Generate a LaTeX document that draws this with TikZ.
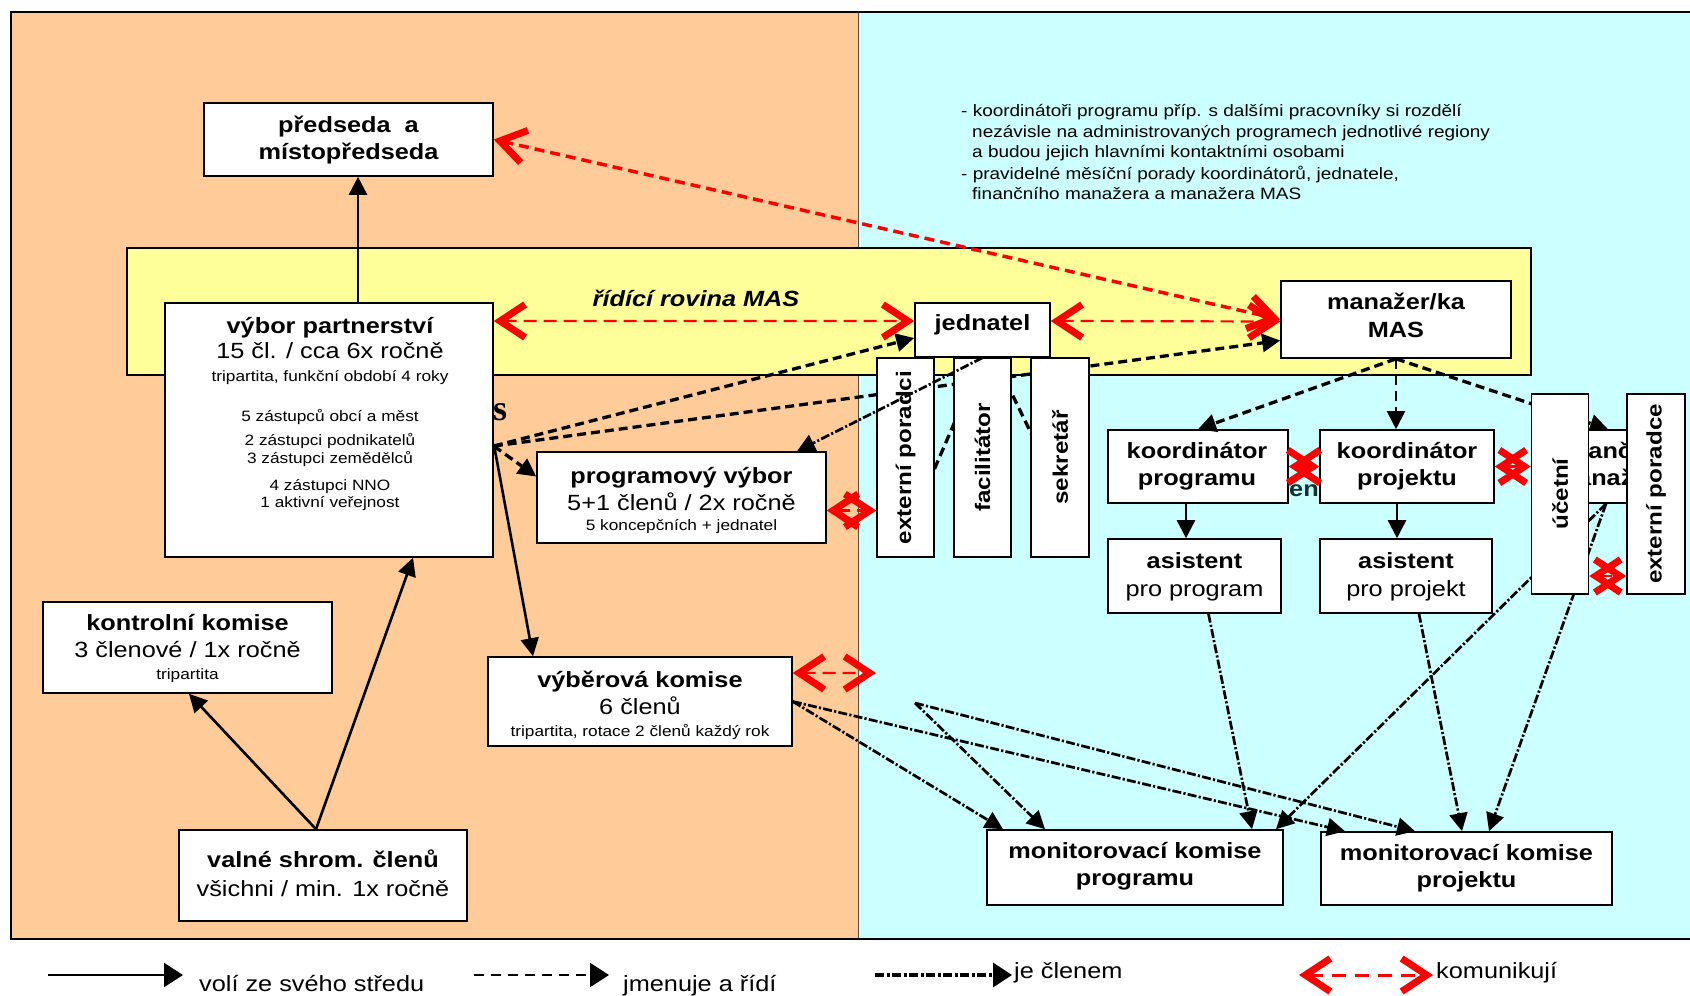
\documentclass[tikz,border=0pt]{standalone}
\usepackage{fontspec}
\setmainfont{Liberation Sans}[FakeStretch=1.15]
\newfontfamily\serifb{Liberation Serif}
\usetikzlibrary{arrows.meta,calc}
\pgfdeclarelayer{back}\pgfdeclarelayer{mid}\pgfsetlayers{back,mid,main}
\definecolor{orangebg}{RGB}{255,204,153}
\definecolor{cyanbg}{RGB}{204,255,255}
\definecolor{yellowbg}{RGB}{255,255,153}
\definecolor{entext}{RGB}{20,50,50}
\newcommand\fbig{\fontsize{22bp}{28bp}\selectfont}
\newcommand\fsm{\fontsize{15bp}{18bp}\selectfont}
\newcommand\fnote{\fontsize{16.5bp}{21bp}\selectfont}
\newcommand\frot{\fontsize{21bp}{25bp}\selectfont\bfseries}
\begin{document}
\begin{tikzpicture}[x=1bp,y=-1bp,
  box/.style={draw=black,line width=1.6bp,fill=white,inner sep=0pt,rectangle},
  vbox/.style={box,rotate=90,font=\frot},
  tb/.style={font=\fbig\bfseries,anchor=mid,inner sep=0pt,yshift=-3.5bp},
  tr/.style={font=\fbig,anchor=mid,inner sep=0pt,yshift=-3.5bp},
  ts/.style={font=\fsm,anchor=mid,inner sep=0pt,yshift=-3bp},
  tn/.style={font=\fnote,anchor=mid west,inner sep=0pt,yshift=-1.5bp},
  blackhead/.style={-{Triangle[length=18bp,width=18bp]}},
  leghead/.style={-{Triangle[length=19bp,width=24bp]}},
  solidarr/.style={line width=2.6bp,blackhead},
  jmenarr/.style={line width=3.3bp,dash pattern=on 9bp off 5bp,blackhead},
  clenarr/.style={line width=2.7bp,dash pattern=on 9bp off 2.2bp on 2.2bp off 2.2bp,blackhead},
  komarr/.style={draw=red,line width=2.2bp,dash pattern=on 13bp off 7bp,
     {Straight Barb[length=25bp,width=33bp,line width=7bp]}-{Straight Barb[length=25bp,width=33bp,line width=7bp]}}
]
\useasboundingbox (0,0) rectangle (1690,995);

\begin{pgfonlayer}{back}
\fill[white] (0,0) rectangle (1690,995);
\fill[orangebg] (11,12) rectangle (858,939);
\fill[cyanbg] (858,12) rectangle (1700,939);
\draw[line width=0.8bp,black!70] (858,12) -- (858,939);
\draw[line width=2bp] (11,12) rectangle (1700,939);
\node[draw,line width=1.6bp,fill=yellowbg,minimum width=1404bp,minimum height=127bp,inner sep=0pt] (band) at (829,311.5) {};
\node[font=\fbig\bfseries\itshape,anchor=mid,inner sep=0pt,yshift=-3.5bp] (rovina) at (696,300) {řídící rovina MAS};
\node[tn] (n1) at (961,112) {- koordinátoři programu příp. s dalšími pracovníky si rozdělí};
\node[tn] (n2) at (972,133) {nezávisle na administrovaných programech jednotlivé regiony};
\node[tn] (n3) at (972,153) {a budou jejich hlavními kontaktními osobami};
\node[tn] (n4) at (961,175) {- pravidelné měsíční porady koordinátorů, jednatele,};
\node[tn] (n5) at (972,195) {finančního manažera a manažera MAS};
\node[font=\serifb\bfseries\fontsize{36bp}{40bp}\selectfont,anchor=mid west,inner sep=0pt] (sfrag) at (493,418) {s};
\node[font=\fbig\bfseries,text=entext,anchor=mid west,inner sep=0pt,yshift=-4bp] (enfrag) at (1289,490) {en};
\end{pgfonlayer}

% boxes
\node[box,minimum width=289bp,minimum height=73bp] (predseda) at (348.5,139.5) {};
\node[tb] (predseda1) at (348.5,126) {předseda\ \ a};
\node[tb] (predseda2) at (348.5,153) {místopředseda};

\node[box,minimum width=328bp,minimum height=254bp] (vybor) at (329,430) {};
\node[tb] (vybor1) at (330,327) {výbor partnerství};
\node[tr] (vybor2) at (330,352) {15 čl. / cca 6x ročně};
\node[ts] (vybor3) at (330,376) {tripartita, funkční období 4 roky};
\node[ts] (vybor4) at (330,416) {5 zástupců obcí a měst};
\node[ts] (vybor5) at (330,440) {2 zástupci podnikatelů};
\node[ts] (vybor6) at (330,458) {3 zástupci zemědělců};
\node[ts] (vybor7) at (330,485) {4 zástupci NNO};
\node[ts] (vybor8) at (330,502) {1 aktivní veřejnost};

\node[box,minimum width=135bp,minimum height=54bp] (jednatel) at (982.5,330) {};
\node[tb] (jednatel1) at (982.5,324.5) {jednatel};

\node[box,minimum width=230bp,minimum height=77bp] (manazer) at (1396,319.5) {};
\node[tb] (manazer1) at (1396,303.5) {manažer/ka};
\node[tb] (manazer2) at (1396,331) {MAS};

\node[vbox,minimum width=199bp,minimum height=57bp] (extpor) at (905.5,457.5) {externí poradci};
\node[vbox,minimum width=199bp,minimum height=57bp] (facil) at (982.5,457.5) {facilitátor};
\node[vbox,minimum width=199bp,minimum height=58bp] (sekr) at (1060,457.5) {sekretář};

\node[box,minimum width=289bp,minimum height=91bp] (progv) at (681.5,497.5) {};
\node[tb] (progv1) at (681.5,477.5) {programový výbor};
\node[tr] (progv2) at (681.5,504) {5+1 členů / 2x ročně};
\node[ts] (progv3) at (681.5,525) {5 koncepčních + jednatel};

\node[box,minimum width=180bp,minimum height=73bp] (koordprog) at (1198,466.5) {};
\node[tb] (koordprog1) at (1197,452) {koordinátor};
\node[tb] (koordprog2) at (1197,479) {programu};

\node[box,minimum width=174bp,minimum height=73bp] (koordproj) at (1407,466.5) {};
\node[tb] (koordproj1) at (1407,452) {koordinátor};
\node[tb] (koordproj2) at (1407,479) {projektu};

\node[box,minimum width=173bp,minimum height=74bp] (asprog) at (1194.5,576) {};
\node[tb] (asprog1) at (1194.5,562.5) {asistent};
\node[tr] (asprog2) at (1194.5,590) {pro program};

\node[box,minimum width=172bp,minimum height=74bp] (asproj) at (1406,576) {};
\node[tb] (asproj1) at (1406,562.5) {asistent};
\node[tr] (asproj2) at (1406,590) {pro projekt};

\node[box,minimum width=142bp,minimum height=73bp] (fin) at (1606,466.5) {};
\node[tb] (fin1) at (1606,452) {finanční};
\node[tb] (fin2) at (1606,479) {manažer};

\node[vbox,minimum width=200bp,minimum height=57bp] (ucetni) at (1560,494) {účetní};
\node[vbox,minimum width=200bp,minimum height=58bp] (extporadce) at (1656,494) {externí poradce};

\node[box,minimum width=289bp,minimum height=91bp] (kontrol) at (187.5,647.5) {};
\node[tb] (kontrol1) at (187.5,624) {kontrolní komise};
\node[tr] (kontrol2) at (187.5,651.5) {3 členové / 1x ročně};
\node[ts] (kontrol3) at (187.5,674) {tripartita};

\node[box,minimum width=304bp,minimum height=89bp] (vyber) at (640,701.5) {};
\node[tb] (vyber1) at (640,681) {výběrová komise};
\node[tr] (vyber2) at (640,708) {6 členů};
\node[ts] (vyber3) at (640,731) {tripartita, rotace 2 členů každý rok};

\node[box,minimum width=288bp,minimum height=91bp] (valne) at (323,875.5) {};
\node[tb] (valne1) at (323,861.5) {valné shrom. členů};
\node[tr] (valne2) at (323,890) {všichni / min. 1x ročně};

\node[box,minimum width=296bp,minimum height=75bp] (monprog) at (1135,867.5) {};
\node[tb] (monprog1) at (1135,852.5) {monitorovací komise};
\node[tb] (monprog2) at (1135,879) {programu};

\node[box,minimum width=291bp,minimum height=73bp] (monproj) at (1466.5,868.5) {};
\node[tb] (monproj1) at (1466.5,854) {monitorovací komise};
\node[tb] (monproj2) at (1466.5,881.5) {projektu};

% lines running behind the boxes
\begin{pgfonlayer}{mid}
\coordinate (hidA) at (905,537);
\coordinate (hidB) at (1062,497);
\draw[jmenarr] ([yshift=-16bp]vybor.east) -- ([yshift=-21bp]manazer.west);
\draw[jmenarr,-] (jednatel.south) -- (hidA);
\draw[jmenarr,-] ([xshift=12bp]jednatel.south) -- (hidB);
\draw[jmenarr] (manazer.south) -- ([xshift=2bp]fin.north);
\draw[clenarr] (fin.south) -- (monprog.north -| 1276,0);
\draw[clenarr] (fin.south) -- (monproj.north -| 1489,0);
\end{pgfonlayer}

% connectors on top
\draw[solidarr] (vybor.north -| 358,0) -- (predseda.south -| 358,0);
\draw[solidarr] ([xshift=-7bp]valne.north) -- ([xshift=1.5bp]kontrol.south);
\draw[solidarr] ([xshift=-7bp]valne.north) -- (vybor.south -| 413,0);
\draw[solidarr] ([yshift=-14bp]vybor.east) -- (vyber.north -| 533,0);
\draw[jmenarr] ([yshift=-16bp]vybor.east) -- ([yshift=-8bp]jednatel.west);
\draw[jmenarr] ([yshift=-16bp]vybor.east) -- ([yshift=21bp]progv.west);
\draw[clenarr] (jednatel.south) -- (progv.north -| 797,0);
\draw[jmenarr] (manazer.south) -- (koordprog.north);
\draw[jmenarr,line width=2bp,dash pattern=on 10bp off 6bp] (manazer.south) -- (manazer.south |- koordproj.north);
\draw[solidarr] ([xshift=-12bp]koordprog.south) -- ([xshift=-12bp]koordprog.south |- asprog.north);
\draw[solidarr] ([xshift=-10bp]koordproj.south) -- ([xshift=-10bp]koordproj.south |- asproj.north);
\draw[clenarr] ([xshift=14bp]asprog.south) -- (monprog.north -| 1252,0);
\draw[clenarr] ([xshift=13bp]asproj.south) -- (monproj.north -| 1462,0);
\draw[clenarr] (vyber.east) -- (monprog.north -| 1003,0);
\draw[clenarr] (vyber.east) -- (monproj.north -| 1345,0);
\coordinate (vfree) at (915,703);
\draw[clenarr] (vfree) -- (monprog.north -| 1045,0);
\draw[clenarr] (vfree) -- (monproj.north -| 1415,0);

% communication
\draw[komarr,line width=3.5bp,dash pattern=on 10bp off 6bp] (predseda.east) -- (manazer.west);
\draw[komarr] ([yshift=109bp]vybor.east) -- ([yshift=9bp]jednatel.west);
\draw[komarr] ([yshift=9bp]jednatel.east) -- ([yshift=-2bp]manazer.west);
\draw[komarr] ([yshift=-13bp]progv.east) -- ([yshift=-13bp]progv.east -| extpor.north);
\coordinate (vyberkom) at (876,673);
\draw[komarr] ([yshift=28.5bp]vyber.east) -- (vyberkom);
\draw[komarr] (koordprog.east) -- (koordproj.west);
\draw[komarr] (koordproj.east) -- (koordproj.east -| ucetni.north);
\draw[komarr] ([yshift=-82bp]ucetni.south) -- ([yshift=-82bp]ucetni.south -| extporadce.north);

% legend
\coordinate (l1a) at (48,975); \coordinate (l1b) at (183,975);
\draw[line width=2.2bp,leghead] (l1a) -- (l1b);
\node[tr,anchor=mid west] (l1t) at (199,985) {volí ze svého středu};
\coordinate (l2a) at (474,975); \coordinate (l2b) at (609,975);
\draw[line width=2.2bp,dash pattern=on 10bp off 7bp,leghead] (l2a) -- (l2b);
\node[tr,anchor=mid west] (l2t) at (623,985) {jmenuje a řídí};
\coordinate (l3a) at (875,975); \coordinate (l3b) at (1012,975);
\draw[line width=3.4bp,dash pattern=on 9bp off 2.5bp on 3bp off 2.5bp,leghead] (l3a) -- (l3b);
\node[tr,anchor=mid west] (l3t) at (1014,972) {je členem};
\coordinate (l4a) at (1299,975); \coordinate (l4b) at (1433,975);
\draw[komarr,line width=3bp,dash pattern=on 14bp off 9bp] (l4a) -- (l4b);
\node[tr,anchor=mid west] (l4t) at (1436,972) {komunikují};
\end{tikzpicture}
\end{document}
